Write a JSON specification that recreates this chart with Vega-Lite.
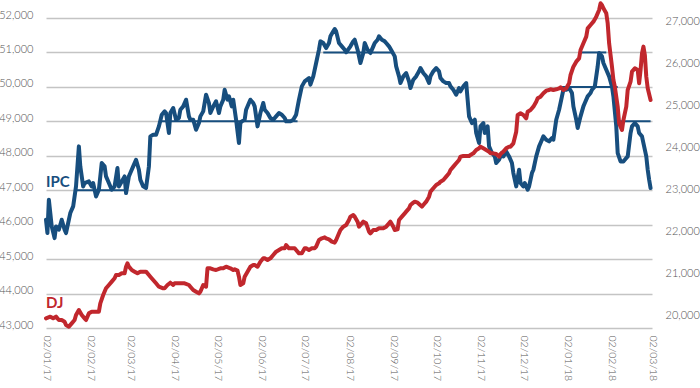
{
  "$schema": "https://vega.github.io/schema/vega-lite/v6.json",
  "width": 606,
  "height": 310,
  "autosize": {"type": "none"},
  "padding": {"left": 46, "right": 48, "top": 18, "bottom": 60},
  "config": {
    "view": {"stroke": null},
    "axis": {"labelFont": "Lato", "labelFontWeight": 300, "labelFontSize": 11, "labelColor": "#555555", "domain": false, "ticks": false, "title": null}
  },
  "datasets": {
    "ipc": [
      {"date": "2017-01-02", "value": 46143}, {"date": "2017-01-03", "value": 45756}, {"date": "2017-01-04", "value": 46724},
      {"date": "2017-01-05", "value": 46337}, {"date": "2017-01-06", "value": 45950}, {"date": "2017-01-08", "value": 45610},
      {"date": "2017-01-09", "value": 45950}, {"date": "2017-01-11", "value": 45853}, {"date": "2017-01-13", "value": 46143},
      {"date": "2017-01-15", "value": 45853}, {"date": "2017-01-16", "value": 45756}, {"date": "2017-01-18", "value": 46143},
      {"date": "2017-01-19", "value": 46337}, {"date": "2017-01-21", "value": 46530}, {"date": "2017-01-23", "value": 47111},
      {"date": "2017-01-25", "value": 48273}, {"date": "2017-01-26", "value": 47692}, {"date": "2017-01-28", "value": 47111},
      {"date": "2017-01-29", "value": 47208}, {"date": "2017-02-01", "value": 47256}, {"date": "2017-02-03", "value": 47111},
      {"date": "2017-02-04", "value": 47208}, {"date": "2017-02-06", "value": 46820}, {"date": "2017-02-08", "value": 47014},
      {"date": "2017-02-10", "value": 47789}, {"date": "2017-02-12", "value": 47692}, {"date": "2017-02-13", "value": 47401},
      {"date": "2017-02-15", "value": 47208}, {"date": "2017-02-17", "value": 47014}, {"date": "2017-02-19", "value": 47111},
      {"date": "2017-02-21", "value": 47643}, {"date": "2017-02-22", "value": 47111}, {"date": "2017-02-24", "value": 47256},
      {"date": "2017-02-26", "value": 47401}, {"date": "2017-02-27", "value": 46917}, {"date": "2017-03-01", "value": 47401},
      {"date": "2017-03-02", "value": 47498}, {"date": "2017-03-04", "value": 47692}, {"date": "2017-03-06", "value": 47885},
      {"date": "2017-03-08", "value": 47595}, {"date": "2017-03-09", "value": 47305}, {"date": "2017-03-11", "value": 47111},
      {"date": "2017-03-13", "value": 47062}, {"date": "2017-03-15", "value": 47692}, {"date": "2017-03-16", "value": 48563},
      {"date": "2017-03-18", "value": 48611}, {"date": "2017-03-20", "value": 48611}, {"date": "2017-03-22", "value": 48854},
      {"date": "2017-03-24", "value": 49193}, {"date": "2017-03-26", "value": 49289}, {"date": "2017-03-27", "value": 49241},
      {"date": "2017-03-29", "value": 48660}, {"date": "2017-03-30", "value": 49241}, {"date": "2017-04-01", "value": 49386},
      {"date": "2017-04-03", "value": 49047}, {"date": "2017-04-05", "value": 49096}, {"date": "2017-04-06", "value": 49337},
      {"date": "2017-04-08", "value": 49434}, {"date": "2017-04-10", "value": 49628}, {"date": "2017-04-12", "value": 49144},
      {"date": "2017-04-13", "value": 49047}, {"date": "2017-04-15", "value": 49047}, {"date": "2017-04-17", "value": 48757},
      {"date": "2017-04-19", "value": 48950}, {"date": "2017-04-20", "value": 49144}, {"date": "2017-04-22", "value": 49289},
      {"date": "2017-04-24", "value": 49773}, {"date": "2017-04-26", "value": 49531}, {"date": "2017-04-27", "value": 49241},
      {"date": "2017-04-29", "value": 49434}, {"date": "2017-05-01", "value": 49580}, {"date": "2017-05-03", "value": 49241},
      {"date": "2017-05-04", "value": 49434}, {"date": "2017-05-06", "value": 49628}, {"date": "2017-05-07", "value": 49918},
      {"date": "2017-05-09", "value": 49628}, {"date": "2017-05-10", "value": 49725}, {"date": "2017-05-12", "value": 49434},
      {"date": "2017-05-13", "value": 49628}, {"date": "2017-05-15", "value": 49047}, {"date": "2017-05-17", "value": 48369},
      {"date": "2017-05-18", "value": 48950}, {"date": "2017-05-19", "value": 48999}, {"date": "2017-05-21", "value": 49047},
      {"date": "2017-05-22", "value": 49337}, {"date": "2017-05-24", "value": 49531}, {"date": "2017-05-25", "value": 49628},
      {"date": "2017-05-27", "value": 49531}, {"date": "2017-05-28", "value": 49434}, {"date": "2017-05-30", "value": 48854},
      {"date": "2017-06-01", "value": 49241}, {"date": "2017-06-03", "value": 49531}, {"date": "2017-06-04", "value": 49337},
      {"date": "2017-06-06", "value": 49241}, {"date": "2017-06-08", "value": 49096}, {"date": "2017-06-10", "value": 49047},
      {"date": "2017-06-12", "value": 49144}, {"date": "2017-06-14", "value": 49241}, {"date": "2017-06-16", "value": 49193},
      {"date": "2017-06-18", "value": 49096}, {"date": "2017-06-19", "value": 48999}, {"date": "2017-06-22", "value": 48999},
      {"date": "2017-06-24", "value": 49047}, {"date": "2017-06-26", "value": 49193}, {"date": "2017-06-28", "value": 49628},
      {"date": "2017-06-30", "value": 50015}, {"date": "2017-07-02", "value": 50160}, {"date": "2017-07-05", "value": 50257},
      {"date": "2017-07-06", "value": 50064}, {"date": "2017-07-08", "value": 50306}, {"date": "2017-07-10", "value": 50693},
      {"date": "2017-07-12", "value": 51080}, {"date": "2017-07-13", "value": 51322}, {"date": "2017-07-15", "value": 51274},
      {"date": "2017-07-17", "value": 51128}, {"date": "2017-07-19", "value": 51274}, {"date": "2017-07-20", "value": 51467},
      {"date": "2017-07-22", "value": 51612}, {"date": "2017-07-23", "value": 51680}, {"date": "2017-07-24", "value": 51612},
      {"date": "2017-07-26", "value": 51274}, {"date": "2017-07-28", "value": 51177}, {"date": "2017-07-30", "value": 51080},
      {"date": "2017-07-31", "value": 51003}, {"date": "2017-08-03", "value": 51177}, {"date": "2017-08-05", "value": 51322},
      {"date": "2017-08-06", "value": 51370}, {"date": "2017-08-08", "value": 51080}, {"date": "2017-08-10", "value": 50693},
      {"date": "2017-08-12", "value": 50983}, {"date": "2017-08-13", "value": 51274}, {"date": "2017-08-15", "value": 51080},
      {"date": "2017-08-17", "value": 50983}, {"date": "2017-08-19", "value": 51177}, {"date": "2017-08-20", "value": 51274},
      {"date": "2017-08-22", "value": 51370}, {"date": "2017-08-23", "value": 51467}, {"date": "2017-08-25", "value": 51370},
      {"date": "2017-08-27", "value": 51322}, {"date": "2017-08-28", "value": 51274}, {"date": "2017-08-30", "value": 51177},
      {"date": "2017-09-01", "value": 51032}, {"date": "2017-09-03", "value": 50886}, {"date": "2017-09-04", "value": 50596},
      {"date": "2017-09-06", "value": 50306}, {"date": "2017-09-07", "value": 50112}, {"date": "2017-09-09", "value": 50306},
      {"date": "2017-09-11", "value": 50402}, {"date": "2017-09-13", "value": 50160}, {"date": "2017-09-14", "value": 49967},
      {"date": "2017-09-16", "value": 50209}, {"date": "2017-09-18", "value": 50306}, {"date": "2017-09-20", "value": 50451},
      {"date": "2017-09-21", "value": 50547}, {"date": "2017-09-23", "value": 50402}, {"date": "2017-09-25", "value": 50306},
      {"date": "2017-09-27", "value": 50112}, {"date": "2017-09-28", "value": 50306}, {"date": "2017-09-30", "value": 50451},
      {"date": "2017-10-02", "value": 50547}, {"date": "2017-10-04", "value": 50451}, {"date": "2017-10-05", "value": 50257},
      {"date": "2017-10-07", "value": 50160}, {"date": "2017-10-09", "value": 50112}, {"date": "2017-10-11", "value": 50112},
      {"date": "2017-10-12", "value": 50015}, {"date": "2017-10-14", "value": 49918}, {"date": "2017-10-16", "value": 49773},
      {"date": "2017-10-18", "value": 49967}, {"date": "2017-10-19", "value": 49870}, {"date": "2017-10-21", "value": 50015},
      {"date": "2017-10-23", "value": 50112}, {"date": "2017-10-24", "value": 49628}, {"date": "2017-10-25", "value": 49144},
      {"date": "2017-10-27", "value": 48950}, {"date": "2017-10-29", "value": 49047}, {"date": "2017-10-30", "value": 48660},
      {"date": "2017-11-01", "value": 48369}, {"date": "2017-11-02", "value": 48854}, {"date": "2017-11-04", "value": 48950},
      {"date": "2017-11-05", "value": 48660}, {"date": "2017-11-07", "value": 48854}, {"date": "2017-11-08", "value": 48273},
      {"date": "2017-11-10", "value": 48079}, {"date": "2017-11-12", "value": 47982}, {"date": "2017-11-13", "value": 47789},
      {"date": "2017-11-15", "value": 47885}, {"date": "2017-11-17", "value": 48079}, {"date": "2017-11-18", "value": 47982},
      {"date": "2017-11-20", "value": 48127}, {"date": "2017-11-22", "value": 47982}, {"date": "2017-11-24", "value": 47789},
      {"date": "2017-11-25", "value": 47498}, {"date": "2017-11-27", "value": 47111}, {"date": "2017-11-29", "value": 47595},
      {"date": "2017-11-30", "value": 47208}, {"date": "2017-12-02", "value": 47111}, {"date": "2017-12-03", "value": 47208},
      {"date": "2017-12-05", "value": 47014}, {"date": "2017-12-06", "value": 47111}, {"date": "2017-12-08", "value": 47498},
      {"date": "2017-12-09", "value": 47595}, {"date": "2017-12-11", "value": 47982}, {"date": "2017-12-13", "value": 48273},
      {"date": "2017-12-15", "value": 48466}, {"date": "2017-12-16", "value": 48563}, {"date": "2017-12-18", "value": 48466},
      {"date": "2017-12-20", "value": 48418}, {"date": "2017-12-22", "value": 48515}, {"date": "2017-12-23", "value": 48466},
      {"date": "2017-12-25", "value": 49047}, {"date": "2017-12-27", "value": 49337}, {"date": "2017-12-29", "value": 49725},
      {"date": "2017-12-30", "value": 49918}, {"date": "2018-01-01", "value": 49918}, {"date": "2018-01-03", "value": 49967},
      {"date": "2018-01-05", "value": 49821}, {"date": "2018-01-06", "value": 49434}, {"date": "2018-01-08", "value": 49047},
      {"date": "2018-01-09", "value": 48806}, {"date": "2018-01-11", "value": 49144}, {"date": "2018-01-13", "value": 49434},
      {"date": "2018-01-14", "value": 49531}, {"date": "2018-01-16", "value": 49725}, {"date": "2018-01-18", "value": 49821},
      {"date": "2018-01-19", "value": 49918}, {"date": "2018-01-21", "value": 50015}, {"date": "2018-01-23", "value": 50596},
      {"date": "2018-01-24", "value": 50983}, {"date": "2018-01-26", "value": 50886}, {"date": "2018-01-27", "value": 50693},
      {"date": "2018-01-29", "value": 50499}, {"date": "2018-01-31", "value": 50306}, {"date": "2018-02-02", "value": 50015},
      {"date": "2018-02-03", "value": 49725}, {"date": "2018-02-05", "value": 48854}, {"date": "2018-02-06", "value": 48079},
      {"date": "2018-02-08", "value": 47837}, {"date": "2018-02-10", "value": 47837}, {"date": "2018-02-11", "value": 47885},
      {"date": "2018-02-13", "value": 47982}, {"date": "2018-02-15", "value": 48660}, {"date": "2018-02-16", "value": 48854},
      {"date": "2018-02-18", "value": 48950}, {"date": "2018-02-20", "value": 48854}, {"date": "2018-02-21", "value": 48660},
      {"date": "2018-02-23", "value": 48563}, {"date": "2018-02-24", "value": 48369}, {"date": "2018-02-26", "value": 47982},
      {"date": "2018-02-27", "value": 47595}, {"date": "2018-02-28", "value": 47305}, {"date": "2018-03-01", "value": 47062}
    ],
    "dj": [
      {"date": "2017-01-02", "value": 19944}, {"date": "2017-01-05", "value": 19984}, {"date": "2017-01-07", "value": 19944},
      {"date": "2017-01-09", "value": 19984}, {"date": "2017-01-11", "value": 19904}, {"date": "2017-01-13", "value": 19904},
      {"date": "2017-01-15", "value": 19865}, {"date": "2017-01-16", "value": 19785}, {"date": "2017-01-18", "value": 19746},
      {"date": "2017-01-20", "value": 19825}, {"date": "2017-01-22", "value": 19904}, {"date": "2017-01-23", "value": 20024},
      {"date": "2017-01-25", "value": 20143}, {"date": "2017-01-27", "value": 20024}, {"date": "2017-01-29", "value": 19944},
      {"date": "2017-01-30", "value": 19904}, {"date": "2017-02-01", "value": 20063}, {"date": "2017-02-03", "value": 20103},
      {"date": "2017-02-05", "value": 20103}, {"date": "2017-02-08", "value": 20103}, {"date": "2017-02-09", "value": 20301},
      {"date": "2017-02-11", "value": 20500}, {"date": "2017-02-13", "value": 20659}, {"date": "2017-02-15", "value": 20738},
      {"date": "2017-02-17", "value": 20817}, {"date": "2017-02-19", "value": 20897}, {"date": "2017-02-20", "value": 20976},
      {"date": "2017-02-22", "value": 20976}, {"date": "2017-02-24", "value": 21016}, {"date": "2017-02-26", "value": 21016},
      {"date": "2017-02-27", "value": 21174}, {"date": "2017-02-28", "value": 21254}, {"date": "2017-03-01", "value": 21174},
      {"date": "2017-03-03", "value": 21095}, {"date": "2017-03-05", "value": 21055}, {"date": "2017-03-07", "value": 21016},
      {"date": "2017-03-09", "value": 21055}, {"date": "2017-03-11", "value": 21055}, {"date": "2017-03-13", "value": 21055},
      {"date": "2017-03-15", "value": 20976}, {"date": "2017-03-16", "value": 20936}, {"date": "2017-03-18", "value": 20857},
      {"date": "2017-03-20", "value": 20778}, {"date": "2017-03-22", "value": 20698}, {"date": "2017-03-25", "value": 20659},
      {"date": "2017-03-26", "value": 20659}, {"date": "2017-03-28", "value": 20738}, {"date": "2017-03-30", "value": 20793},
      {"date": "2017-04-01", "value": 20738}, {"date": "2017-04-02", "value": 20778}, {"date": "2017-04-05", "value": 20778},
      {"date": "2017-04-07", "value": 20778}, {"date": "2017-04-09", "value": 20778}, {"date": "2017-04-12", "value": 20738},
      {"date": "2017-04-13", "value": 20698}, {"date": "2017-04-15", "value": 20619}, {"date": "2017-04-17", "value": 20579},
      {"date": "2017-04-19", "value": 20539}, {"date": "2017-04-20", "value": 20579}, {"date": "2017-04-22", "value": 20738},
      {"date": "2017-04-24", "value": 20698}, {"date": "2017-04-25", "value": 21135}, {"date": "2017-04-27", "value": 21135},
      {"date": "2017-04-29", "value": 21111}, {"date": "2017-05-01", "value": 21095}, {"date": "2017-05-04", "value": 21135},
      {"date": "2017-05-06", "value": 21135}, {"date": "2017-05-08", "value": 21174}, {"date": "2017-05-11", "value": 21135},
      {"date": "2017-05-13", "value": 21095}, {"date": "2017-05-14", "value": 21111}, {"date": "2017-05-16", "value": 21079},
      {"date": "2017-05-17", "value": 20936}, {"date": "2017-05-18", "value": 20738}, {"date": "2017-05-20", "value": 20778},
      {"date": "2017-05-21", "value": 20936}, {"date": "2017-05-23", "value": 21055}, {"date": "2017-05-25", "value": 21174},
      {"date": "2017-05-27", "value": 21214}, {"date": "2017-05-28", "value": 21214}, {"date": "2017-05-30", "value": 21174},
      {"date": "2017-06-01", "value": 21293}, {"date": "2017-06-03", "value": 21373}, {"date": "2017-06-04", "value": 21373},
      {"date": "2017-06-06", "value": 21333}, {"date": "2017-06-08", "value": 21373}, {"date": "2017-06-10", "value": 21452},
      {"date": "2017-06-12", "value": 21532}, {"date": "2017-06-14", "value": 21571}, {"date": "2017-06-16", "value": 21611},
      {"date": "2017-06-18", "value": 21611}, {"date": "2017-06-19", "value": 21690}, {"date": "2017-06-21", "value": 21611},
      {"date": "2017-06-23", "value": 21611}, {"date": "2017-06-25", "value": 21611}, {"date": "2017-06-26", "value": 21571},
      {"date": "2017-06-28", "value": 21492}, {"date": "2017-06-30", "value": 21492}, {"date": "2017-07-02", "value": 21611},
      {"date": "2017-07-03", "value": 21611}, {"date": "2017-07-05", "value": 21571}, {"date": "2017-07-07", "value": 21611},
      {"date": "2017-07-09", "value": 21611}, {"date": "2017-07-10", "value": 21651}, {"date": "2017-07-12", "value": 21809},
      {"date": "2017-07-14", "value": 21849}, {"date": "2017-07-16", "value": 21873}, {"date": "2017-07-17", "value": 21849},
      {"date": "2017-07-19", "value": 21825}, {"date": "2017-07-21", "value": 21770}, {"date": "2017-07-23", "value": 21746},
      {"date": "2017-07-24", "value": 21809}, {"date": "2017-07-26", "value": 21968}, {"date": "2017-07-27", "value": 22048},
      {"date": "2017-07-29", "value": 22127}, {"date": "2017-07-31", "value": 22167}, {"date": "2017-08-02", "value": 22286},
      {"date": "2017-08-03", "value": 22365}, {"date": "2017-08-05", "value": 22405}, {"date": "2017-08-06", "value": 22365},
      {"date": "2017-08-08", "value": 22246}, {"date": "2017-08-09", "value": 22127}, {"date": "2017-08-11", "value": 22206},
      {"date": "2017-08-12", "value": 22246}, {"date": "2017-08-14", "value": 22206}, {"date": "2017-08-16", "value": 22008},
      {"date": "2017-08-17", "value": 21968}, {"date": "2017-08-19", "value": 22048}, {"date": "2017-08-21", "value": 22048},
      {"date": "2017-08-23", "value": 22087}, {"date": "2017-08-24", "value": 22087}, {"date": "2017-08-26", "value": 22087},
      {"date": "2017-08-28", "value": 22127}, {"date": "2017-08-30", "value": 22206}, {"date": "2017-08-31", "value": 22246},
      {"date": "2017-09-02", "value": 22127}, {"date": "2017-09-03", "value": 22048}, {"date": "2017-09-05", "value": 22063},
      {"date": "2017-09-06", "value": 22286}, {"date": "2017-09-08", "value": 22365}, {"date": "2017-09-10", "value": 22444},
      {"date": "2017-09-11", "value": 22484}, {"date": "2017-09-13", "value": 22563}, {"date": "2017-09-14", "value": 22643},
      {"date": "2017-09-16", "value": 22698}, {"date": "2017-09-17", "value": 22722}, {"date": "2017-09-19", "value": 22698},
      {"date": "2017-09-20", "value": 22667}, {"date": "2017-09-22", "value": 22603}, {"date": "2017-09-23", "value": 22643},
      {"date": "2017-09-25", "value": 22722}, {"date": "2017-09-27", "value": 22841}, {"date": "2017-09-28", "value": 22960},
      {"date": "2017-09-30", "value": 23040}, {"date": "2017-10-02", "value": 23119}, {"date": "2017-10-04", "value": 23159},
      {"date": "2017-10-05", "value": 23198}, {"date": "2017-10-07", "value": 23238}, {"date": "2017-10-09", "value": 23317},
      {"date": "2017-10-11", "value": 23397}, {"date": "2017-10-12", "value": 23476}, {"date": "2017-10-14", "value": 23556},
      {"date": "2017-10-16", "value": 23635}, {"date": "2017-10-18", "value": 23714}, {"date": "2017-10-19", "value": 23794},
      {"date": "2017-10-21", "value": 23810}, {"date": "2017-10-23", "value": 23810}, {"date": "2017-10-25", "value": 23810},
      {"date": "2017-10-26", "value": 23833}, {"date": "2017-10-28", "value": 23873}, {"date": "2017-10-30", "value": 23952},
      {"date": "2017-11-01", "value": 23992}, {"date": "2017-11-02", "value": 24032}, {"date": "2017-11-04", "value": 23992},
      {"date": "2017-11-06", "value": 23952}, {"date": "2017-11-08", "value": 23913}, {"date": "2017-11-09", "value": 23873},
      {"date": "2017-11-11", "value": 23873}, {"date": "2017-11-13", "value": 23857}, {"date": "2017-11-15", "value": 23794},
      {"date": "2017-11-16", "value": 23857}, {"date": "2017-11-18", "value": 23913}, {"date": "2017-11-20", "value": 23992},
      {"date": "2017-11-22", "value": 24032}, {"date": "2017-11-23", "value": 24032}, {"date": "2017-11-25", "value": 24111},
      {"date": "2017-11-27", "value": 24389}, {"date": "2017-11-28", "value": 24786}, {"date": "2017-11-30", "value": 24825},
      {"date": "2017-12-02", "value": 24786}, {"date": "2017-12-04", "value": 24706}, {"date": "2017-12-05", "value": 24865},
      {"date": "2017-12-07", "value": 24905}, {"date": "2017-12-09", "value": 24984}, {"date": "2017-12-11", "value": 25103},
      {"date": "2017-12-12", "value": 25183}, {"date": "2017-12-14", "value": 25222}, {"date": "2017-12-16", "value": 25302},
      {"date": "2017-12-18", "value": 25365}, {"date": "2017-12-20", "value": 25381}, {"date": "2017-12-21", "value": 25397},
      {"date": "2017-12-23", "value": 25381}, {"date": "2017-12-25", "value": 25397}, {"date": "2017-12-27", "value": 25421},
      {"date": "2017-12-28", "value": 25444}, {"date": "2017-12-30", "value": 25381}, {"date": "2018-01-01", "value": 25421},
      {"date": "2018-01-03", "value": 25540}, {"date": "2018-01-04", "value": 25738}, {"date": "2018-01-06", "value": 25937},
      {"date": "2018-01-08", "value": 26056}, {"date": "2018-01-10", "value": 26135}, {"date": "2018-01-11", "value": 26333},
      {"date": "2018-01-13", "value": 26492}, {"date": "2018-01-15", "value": 26651}, {"date": "2018-01-16", "value": 26849},
      {"date": "2018-01-18", "value": 26929}, {"date": "2018-01-20", "value": 27008}, {"date": "2018-01-22", "value": 27127},
      {"date": "2018-01-24", "value": 27286}, {"date": "2018-01-25", "value": 27445}, {"date": "2018-01-26", "value": 27405},
      {"date": "2018-01-27", "value": 27326}, {"date": "2018-01-29", "value": 27206}, {"date": "2018-01-30", "value": 26968},
      {"date": "2018-01-31", "value": 26492}, {"date": "2018-02-02", "value": 25937}, {"date": "2018-02-03", "value": 25619},
      {"date": "2018-02-04", "value": 25460}, {"date": "2018-02-06", "value": 24984}, {"date": "2018-02-07", "value": 24587},
      {"date": "2018-02-09", "value": 24429}, {"date": "2018-02-10", "value": 24667}, {"date": "2018-02-12", "value": 24984},
      {"date": "2018-02-13", "value": 25381}, {"date": "2018-02-15", "value": 25579}, {"date": "2018-02-16", "value": 25818},
      {"date": "2018-02-18", "value": 25897}, {"date": "2018-02-20", "value": 25857}, {"date": "2018-02-21", "value": 25540},
      {"date": "2018-02-22", "value": 25857}, {"date": "2018-02-23", "value": 26254}, {"date": "2018-02-24", "value": 26413},
      {"date": "2018-02-25", "value": 26214}, {"date": "2018-02-26", "value": 25699}, {"date": "2018-02-27", "value": 25421},
      {"date": "2018-03-01", "value": 25143}
    ],
    "ipcLevels": [
      {"date": "2017-01-22", "end": "2017-02-28", "value": 47000},
      {"date": "2017-03-23", "end": "2017-06-27", "value": 49000},
      {"date": "2017-07-15", "end": "2017-09-01", "value": 51000},
      {"date": "2017-12-28", "end": "2018-02-06", "value": 50000},
      {"date": "2018-01-11", "end": "2018-01-29", "value": 51000},
      {"date": "2018-02-06", "end": "2018-03-01", "value": 49000}
    ],
    "ipcLabel": [{"date": "2017-01-02", "value": 47250, "name": "IPC"}],
    "djLabel": [{"date": "2017-01-02", "value": 20317, "name": "DJ"}]
  },
  "encoding": {
    "x": {
      "field": "date",
      "type": "temporal",
      "scale": {"type": "utc", "domain": [{"year": 2017, "month": 1, "date": 2, "utc": true}, {"year": 2018, "month": 3, "date": 2, "utc": true}], "nice": false},
      "axis": {
        "labelExpr": "utcFormat(datum.value, '%d/%m/%y')",
        "labelAngle": 90,
        "labelPadding": 7,
        "labelFontSize": 10.5,
        "grid": false,
        "values": [
          {"year": 2017, "month": 1, "date": 2, "utc": true}, {"year": 2017, "month": 2, "date": 2, "utc": true},
          {"year": 2017, "month": 3, "date": 2, "utc": true}, {"year": 2017, "month": 4, "date": 2, "utc": true},
          {"year": 2017, "month": 5, "date": 2, "utc": true}, {"year": 2017, "month": 6, "date": 2, "utc": true},
          {"year": 2017, "month": 7, "date": 2, "utc": true}, {"year": 2017, "month": 8, "date": 2, "utc": true},
          {"year": 2017, "month": 9, "date": 2, "utc": true}, {"year": 2017, "month": 10, "date": 2, "utc": true},
          {"year": 2017, "month": 11, "date": 2, "utc": true}, {"year": 2017, "month": 12, "date": 2, "utc": true},
          {"year": 2018, "month": 1, "date": 2, "utc": true}, {"year": 2018, "month": 2, "date": 2, "utc": true},
          {"year": 2018, "month": 3, "date": 2, "utc": true}
        ]
      }
    }
  },
  "layer": [
    {
      "encoding": {
        "y": {
          "field": "value",
          "type": "quantitative",
          "scale": {"domain": [43000, 52000], "nice": false, "zero": false},
          "axis": {
            "orient": "left",
            "values": [43000, 44000, 45000, 46000, 47000, 48000, 49000, 50000, 51000, 52000],
            "format": ",d",
            "grid": true,
            "gridColor": "#c4c4c4",
            "gridWidth": 1.5,
            "labelPadding": 13,
            "labelOffset": -3
          }
        }
      },
      "layer": [
        {
          "data": {"name": "ipcLevels"},
          "mark": {"type": "rule", "color": "#174e7e", "strokeWidth": 2},
          "encoding": {"x2": {"field": "end"}}
        },
        {
          "data": {"name": "ipc"},
          "mark": {"type": "line", "color": "#174e7e", "strokeWidth": 4, "strokeJoin": "round", "strokeCap": "round"},
          "encoding": {}
        },
        {
          "data": {"name": "ipcLabel"},
          "mark": {"type": "text", "align": "left", "baseline": "middle", "font": "Lato", "fontWeight": "bold", "fontSize": 15, "color": "#174e7e"},
          "encoding": {"text": {"field": "name"}}
        }
      ]
    },
    {
      "encoding": {
        "y": {
          "field": "value",
          "type": "quantitative",
          "scale": {"domain": [19714, 27095], "nice": false, "zero": false},
          "axis": {
            "orient": "right",
            "values": [20000, 21000, 22000, 23000, 24000, 25000, 26000, 27000],
            "format": ",d",
            "grid": false,
            "labelPadding": 13
          }
        }
      },
      "layer": [
        {
          "data": {"name": "dj"},
          "mark": {"type": "line", "color": "#c1272d", "strokeWidth": 4, "strokeJoin": "round", "strokeCap": "round"},
          "encoding": {}
        },
        {
          "data": {"name": "djLabel"},
          "mark": {"type": "text", "align": "left", "baseline": "middle", "font": "Lato", "fontWeight": "bold", "fontSize": 15, "color": "#c1272d"},
          "encoding": {"text": {"field": "name"}}
        }
      ]
    }
  ],
  "resolve": {"scale": {"y": "independent"}}
}
